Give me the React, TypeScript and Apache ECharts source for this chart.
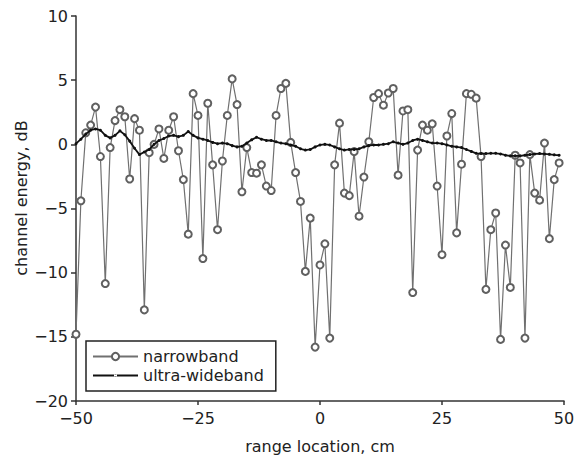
import React, { useEffect, useRef } from "react";
import * as echarts from "echarts";

const rangeCm: number[] = [];
for (let i = -50; i <= 49; i++) rangeCm.push(i);

const narrowband: number[] = [
  -14.8, -4.4, 0.9, 1.5, 2.9, -0.95, -10.85, -0.25, 1.85, 2.7,
  2.15, -2.7, 2.0, 1.1, -12.9, -0.65, 0.0, 1.2, -1.1, 1.1,
  2.15, -0.5, -2.75, -7.0, 3.95, 2.25, -8.9, 3.2, -1.6, -6.65,
  -1.3, 2.25, 5.1, 3.1, -3.7, -0.25, -2.2, -2.25, -1.6, -3.25,
  -3.6, 2.25, 4.35, 4.75, 0.15, -2.2, -4.45, -9.9, -5.75, -15.8,
  -9.4, -7.75, -15.1, -1.6, 1.65, -3.8, -4.0, -0.57, -5.6, -2.55,
  0.2, 3.65, 3.95, 3.05, 4.0, 4.35, -2.4, 2.6, 2.7, -11.55,
  -0.45, 1.5, 1.1, 1.6, -3.25, -8.6, 0.65, 2.4, -6.9, -1.55,
  3.95, 3.9, 3.6, -0.95, -11.3, -6.65, -5.35, -15.2, -7.85, -11.15,
  -0.85, -1.45, -15.1, -0.8, -3.8, -4.35, 0.1, -7.35, -2.75, -1.45,
];

const ultraWideband: number[] = [
  0.05, 0.4, 0.8, 1.1, 1.2, 1.1, 0.7, 0.5, 0.7, 1.05,
  0.75, 0.25, -0.3, -0.8, -0.6, -0.4, 0.0, 0.3, 0.45, 0.65,
  0.7, 0.6, 0.7, 1.0, 0.7, 0.5, 0.4, 0.3, 0.15, 0.05,
  0.1, 0.05, -0.1, -0.2, -0.15, 0.1, 0.35, 0.55, 0.4, 0.3,
  0.3, 0.2, 0.1, 0.05, -0.05, -0.15, -0.35, -0.45, -0.4, -0.2,
  -0.05, 0.0, -0.05, -0.2, -0.35, -0.45, -0.4, -0.4, -0.35, -0.2,
  -0.1, -0.05, -0.05, 0.0, 0.05, 0.2, 0.1, 0.0, 0.1, 0.3,
  0.4, 0.3, 0.2, 0.1, 0.1, 0.05, -0.05, -0.15, -0.2, -0.25,
  -0.4, -0.55, -0.7, -0.72, -0.72, -0.7, -0.7, -0.75, -0.85, -0.9,
  -0.9, -0.9, -0.85, -0.8, -0.75, -0.72, -0.75, -0.78, -0.82, -0.85,
];

const xTicks = { min: -50, max: 50, interval: 25 };
const yTicks = { min: -20, max: 10, interval: 5 };

const FONT = "DejaVu Sans";
const UWB_ICON =
  "path://M0,0.7 L45,0.7 L45,2.5 L0,2.5 Z M20.9,1.6 A1.6,1.6 0 1 0 24.1,1.6 A1.6,1.6 0 1 0 20.9,1.6 Z";

export default function App() {
  const ref = useRef<HTMLDivElement>(null);
  useEffect(() => {
    if (!ref.current) return;
    const chart = echarts.init(ref.current, undefined, { renderer: "svg" });
    const minus = (v: number) => String(v).replace("-", "\u2212");
    chart.setOption({
      animation: false,
      backgroundColor: "#ffffff",
      grid: { left: 76, right: 17, top: 16, bottom: 57 },
      xAxis: {
        type: "value",
        min: xTicks.min,
        max: xTicks.max,
        interval: xTicks.interval,
        name: "range location, cm",
        nameLocation: "middle",
        nameGap: 37,
        nameTextStyle: { fontFamily: FONT, fontSize: 16, color: "#222" },
        axisLine: { show: true, onZero: false, lineStyle: { color: "#333", width: 1.5 } },
        axisTick: { show: true, inside: false, length: 4, lineStyle: { color: "#333", width: 1.5 } },
        axisLabel: { fontFamily: FONT, fontSize: 16, color: "#222", margin: 9, formatter: minus },
        splitLine: { show: false },
      },
      yAxis: {
        type: "value",
        min: yTicks.min,
        max: yTicks.max,
        interval: yTicks.interval,
        axisLine: { show: true, onZero: false, lineStyle: { color: "#333", width: 1.5 } },
        axisTick: { show: true, inside: false, length: 5, lineStyle: { color: "#333", width: 1.5 } },
        axisLabel: { fontFamily: FONT, fontSize: 16, color: "#222", margin: 8, formatter: minus },
        splitLine: { show: false },
      },
      legend: {
        left: 86,
        top: 341,
        orient: "vertical",
        itemWidth: 45,
        itemHeight: 9,
        itemGap: 2,
        padding: [7, 12, 7, 6],
        borderColor: "#222",
        borderWidth: 1.5,
        backgroundColor: "#ffffff",
        textStyle: { fontFamily: FONT, fontSize: 16, lineHeight: 17, color: "#222" },
        data: [
          { name: "narrowband" },
          { name: "ultra-wideband", icon: UWB_ICON },
        ],
      },
      graphic: [
        {
          type: "text",
          x: 21,
          y: 198,
          rotation: Math.PI / 2,
          style: {
            text: "channel energy, dB",
            font: `16px "${FONT}"`,
            fill: "#222",
            align: "center",
            verticalAlign: "middle",
          },
        },
      ],
      series: [
        {
          name: "narrowband",
          type: "line",
          data: rangeCm.map((x, i) => [x, narrowband[i]]),
          symbol: "emptyCircle",
          symbolSize: 7,
          showAllSymbol: true,
          lineStyle: { color: "#707070", width: 1.2 },
          itemStyle: { color: "#606060", borderWidth: 1.2 },
          z: 2,
        },
        {
          name: "ultra-wideband",
          type: "line",
          data: rangeCm.map((x, i) => [x, ultraWideband[i]]),
          symbol: "circle",
          symbolSize: 3,
          showAllSymbol: true,
          lineStyle: { color: "#111", width: 1.8 },
          itemStyle: { color: "#111" },
          z: 3,
        },
      ],
    });
    return () => chart.dispose();
  }, []);
  return (
    <div
      ref={ref}
      style={{ position: "fixed", left: 0, top: 0, width: 581, height: 459 }}
    />
  );
}
